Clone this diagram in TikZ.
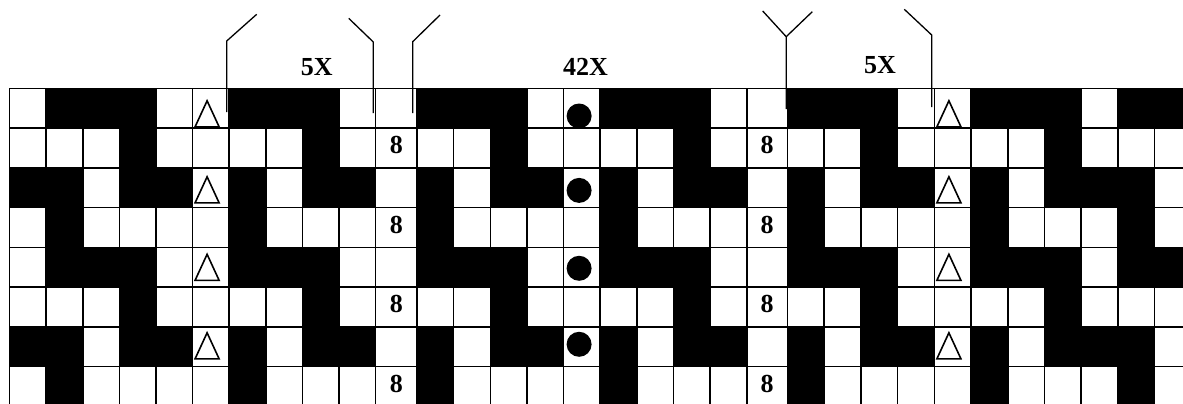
\documentclass[tikz,border=0pt]{standalone}
\usepackage{fontspec}
\setmainfont{Liberation Serif}
\begin{document}
\begin{tikzpicture}[x=1pt,y=-1pt,
  gridline/.style={line width=1.6pt,line cap=rect},
  bracket/.style={line width=1.3pt},
  tri/.style={line width=1.6pt,line join=miter},
  lbl/.style={font=\fontsize{26}{26}\selectfont\bfseries,inner sep=0pt}]
\useasboundingbox (0,0) rectangle (1183,404);
\clip (0,0) rectangle (1183,404);
\def\xs{{9.5,46.1,82.7,119.3,155.9,192.5,229.1,265.7,302.3,338.9,375.5,417,453.6,490.3,526.9,563.6,600.2,636.8,673.5,710.1,746.8,787.5,824.2,860.9,897.6,934.3,971,1007.7,1044.4,1081.1,1117.8,1154.5,1191.2}}
\def\rh{39.75}
\def\ytop{88.3}
\foreach \r/\cols in {0/{1,2,3,6,7,8,11,12,13,16,17,18,21,22,23,26,27,28,30,31},
                      1/{3,8,13,18,23,28},
                      2/{0,1,3,4,6,8,9,11,13,14,16,18,19,21,23,24,26,28,29,30},
                      3/{1,6,11,16,21,26,30}}
  \foreach \k in {0,4}
    \foreach \c in \cols {
      \pgfmathsetmacro\xa{\xs[\c]}
      \pgfmathsetmacro\xb{\xs[\c+1]}
      \pgfmathsetmacro\ya{\ytop+(\r+\k)*\rh}
      \fill (\xa,\ya) rectangle (\xb,\ya+\rh);
    }
\foreach \r in {0,...,8}
  \draw[gridline] (9.5,\ytop+\r*\rh) -- (1195,\ytop+\r*\rh);
\foreach \c in {0,...,31} {
  \pgfmathsetmacro\xa{\xs[\c]}
  \draw[gridline] (\xa,\ytop) -- (\xa,410);
}
\foreach \r/\tb/\cy in {0/38.5/27.7,2/35/22.6,4/33/21,6/32/17.5} {
  \pgfmathsetmacro\ya{\ytop+\r*\rh}
  \foreach \c in {5,25} {
    \pgfmathsetmacro\xa{\xs[\c]}
    \draw[tri] (\xa+2.6,\ya+\tb) -- (\xa+26.6,\ya+\tb) -- (\xa+14.6,\ya+\tb-26) -- cycle;
  }
  \pgfmathsetmacro\xa{\xs[15]}
  \fill (\xa+15.5,\ya+\cy) circle (12.5);
}
\foreach \r in {1,3,5,7}
  \foreach \c in {10,20} {
    \pgfmathsetmacro\xa{\xs[\c]}
    \pgfmathsetmacro\xb{\xs[\c+1]}
    \node[lbl] (e\r-\c) at ({(\xa+\xb)/2},\ytop+\r*\rh+0.5*\rh-2.7) {8};
  }
\node[lbl] (rep1) at (316.7,67) {5X};
\node[lbl] (rep2) at (585.5,67) {42X};
\node[lbl] (rep3) at (880,65.5) {5X};
\coordinate (a1) at (226.7,112); \coordinate (a2) at (226.7,41); \coordinate (a3) at (256.7,14.3);
\coordinate (b1) at (373.3,113); \coordinate (b2) at (373.3,42); \coordinate (b3) at (348.7,18.3);
\coordinate (c1) at (412.7,113); \coordinate (c2) at (412.7,41.7); \coordinate (c3) at (440,15);
\coordinate (d1) at (786.2,109); \coordinate (d2) at (786.2,36.7); \coordinate (d3) at (762.7,11); \coordinate (d4) at (812.3,11.7);
\coordinate (f1) at (931.7,107); \coordinate (f2) at (931.7,35); \coordinate (f3) at (904.3,9.3);
\draw[bracket] (a1) -- (a2) -- (a3);
\draw[bracket] (b1) -- (b2) -- (b3);
\draw[bracket] (c1) -- (c2) -- (c3);
\draw[bracket] (d1) -- (d2) -- (d3);
\draw[bracket] (d2) -- (d4);
\draw[bracket] (f1) -- (f2) -- (f3);
\end{tikzpicture}
\end{document}
